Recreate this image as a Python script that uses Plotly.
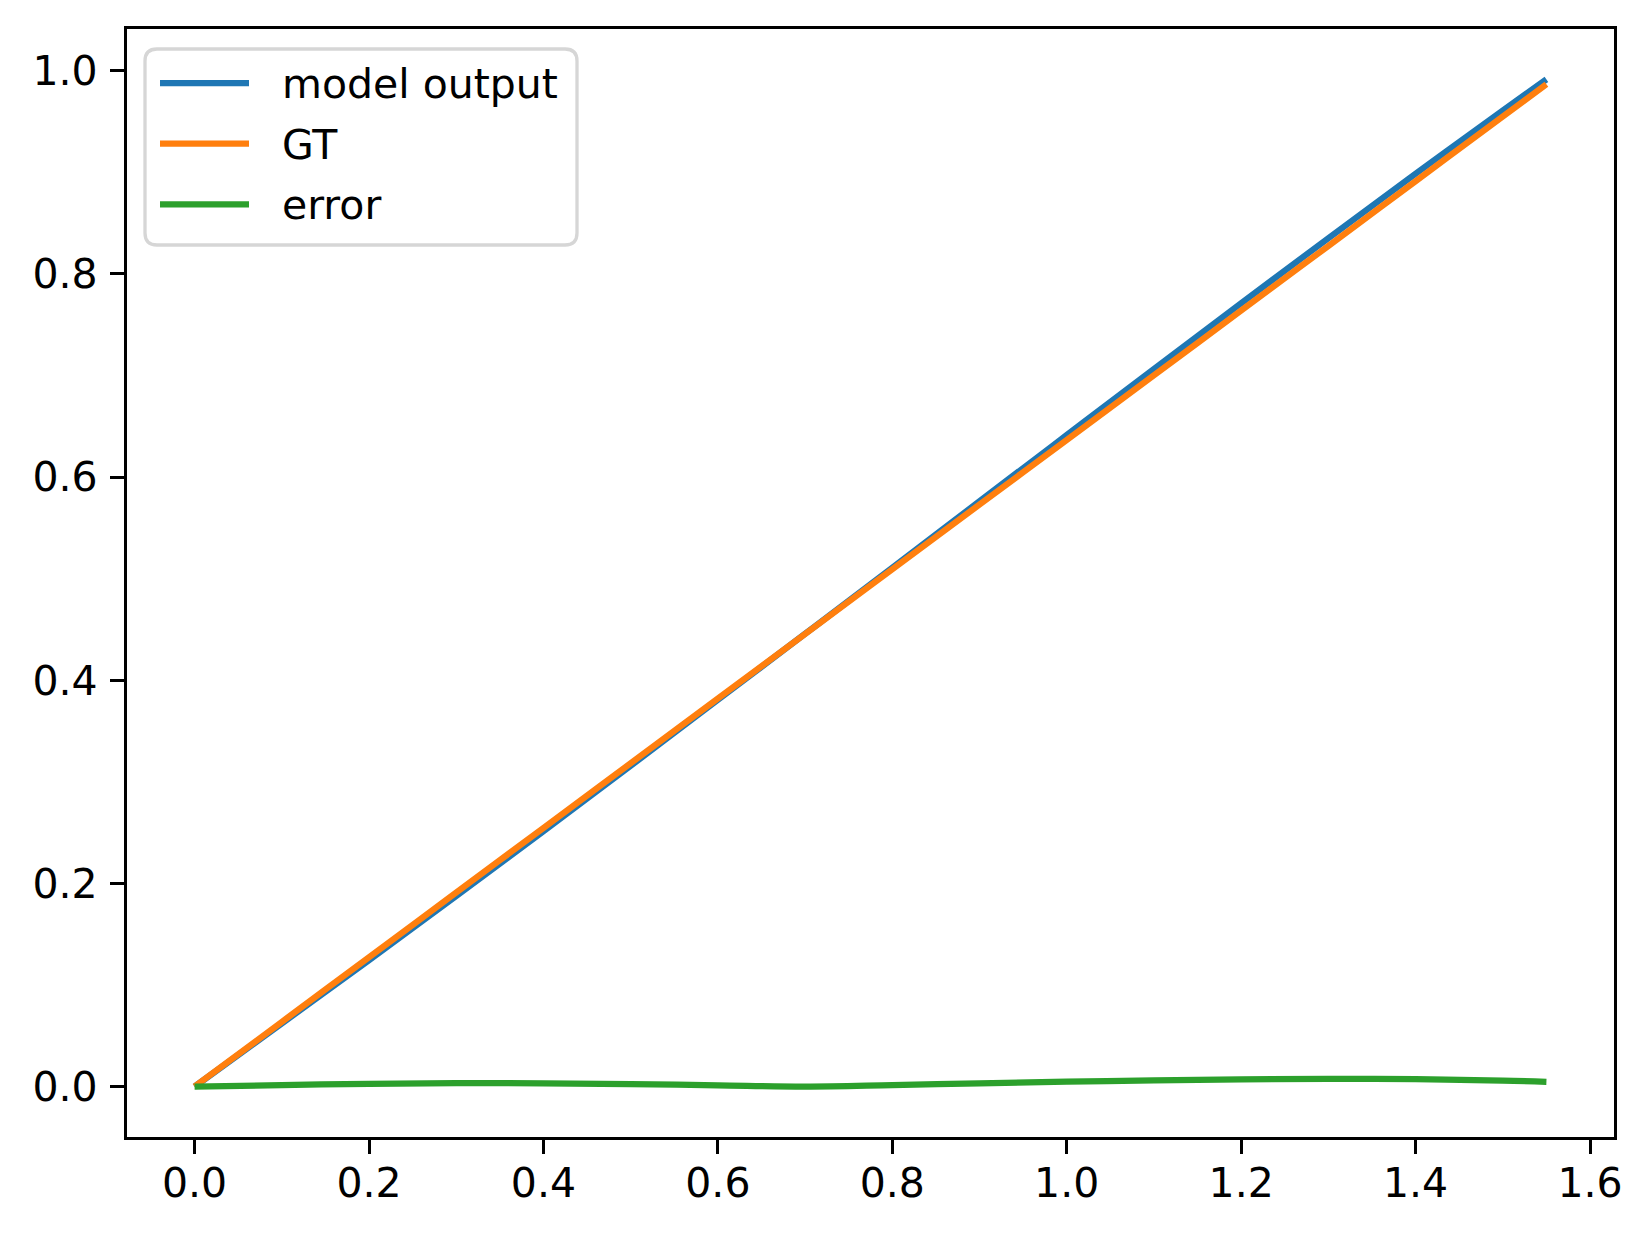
import plotly.graph_objects as go

# Data
x_vals = [0.0, 0.1, 0.2, 0.3, 0.4, 0.5, 0.6, 0.7, 0.8, 0.9, 1.0,
          1.1, 1.2, 1.3, 1.4, 1.5, 1.55]
gt_vals = [0.0, 0.0637, 0.1273, 0.1910, 0.2546, 0.3183, 0.3820, 0.4456, 0.5093,
           0.5730, 0.6366, 0.7003, 0.7639, 0.8276, 0.8913, 0.9549, 0.9868]
model_vals = [0.0, 0.0622, 0.1245, 0.1876, 0.2514, 0.3158, 0.3807, 0.4457, 0.5108,
              0.5762, 0.6414, 0.7065, 0.7711, 0.8352, 0.8986, 0.9609, 0.9915]
error_vals = [0.0, 0.0015, 0.0028, 0.0034, 0.0032, 0.0025, 0.0013, 0.0001, 0.0015,
              0.0032, 0.0048, 0.0062, 0.0072, 0.0076, 0.0073, 0.0060, 0.0047]

series_names = ["model output", "GT", "error"]
series_colors = ["#1f77b4", "#ff7f0e", "#2ca02c"]

x_ticks = [0.0, 0.2, 0.4, 0.6, 0.8, 1.0, 1.2, 1.4, 1.6]
y_ticks = [0.0, 0.2, 0.4, 0.6, 0.8, 1.0]

# page has an 8px body margin, so shrink the figure to fit the window
OFF = 8
W, H = 1652 - 2 * OFF, 1237 - 2 * OFF
AX_L, AX_R, AX_T, AX_B = 127, 1614, 29, 1137   # axes box in window pixels
L, R = AX_L - OFF, 1652 - AX_R - OFF
T, B = AX_T - OFF, 1237 - AX_B - OFF
FONT = dict(family="DejaVu Sans", size=41, color="black")


def px(xp):
    return (xp - AX_L) / (AX_R - AX_L)


def py(yp):
    return (AX_B - yp) / (AX_B - AX_T)


fig = go.Figure()
for name, ys, col in zip(series_names, [model_vals, gt_vals, error_vals], series_colors):
    fig.add_trace(go.Scatter(x=x_vals, y=ys, mode="lines", name=name,
                             line=dict(color=col, width=6.25, shape="spline"),
                             showlegend=False))

# legend drawn by hand to get matplotlib's long handles
x0, y0, x1, y1 = px(145), py(49), px(577), py(245)
rx, ry = 12 / (AX_R - AX_L), 12 / (AX_B - AX_T)
path = (f"M {x0+rx},{y0} L {x1-rx},{y0} Q {x1},{y0} {x1},{y0-ry} "
        f"L {x1},{y1+ry} Q {x1},{y1} {x1-rx},{y1} L {x0+rx},{y1} "
        f"Q {x0},{y1} {x0},{y1+ry} L {x0},{y0-ry} Q {x0},{y0} {x0+rx},{y0} Z")
shapes = [dict(type="path", path=path, xref="paper", yref="paper",
               line=dict(color="#d6d6d6", width=3.3), fillcolor="rgba(255,255,255,0.8)")]
annotations = []
for i, (name, col) in enumerate(zip(series_names, series_colors)):
    yy = 83 + i * 60.7
    shapes.append(dict(type="line", xref="paper", yref="paper",
                       x0=px(160), x1=px(249), y0=py(yy), y1=py(yy),
                       line=dict(color=col, width=6.25)))
    annotations.append(dict(text=name, xref="paper", yref="paper", x=px(280), y=py(yy + 1),
                            xanchor="left", yanchor="middle", showarrow=False, font=FONT))

axis_common = dict(showline=True, linecolor="black", linewidth=3.3, mirror=True,
                   ticks="outside", ticklen=14, tickwidth=3.3, tickcolor="black",
                   showgrid=False, zeroline=False, tickfont=FONT, tickformat=".1f")

fig.update_layout(
    width=W, height=H,
    margin=dict(l=L, r=R, t=T, b=B),
    plot_bgcolor="white", paper_bgcolor="white",
    font=FONT,
    xaxis=dict(range=[-0.0775, 1.6275], tickvals=x_ticks, ticklabelstandoff=-6, **axis_common),
    yaxis=dict(range=[-0.0496, 1.0411], tickvals=y_ticks, ticklabelstandoff=4, **axis_common),
    shapes=shapes, annotations=annotations,
)

fig.write_html("out.html")
